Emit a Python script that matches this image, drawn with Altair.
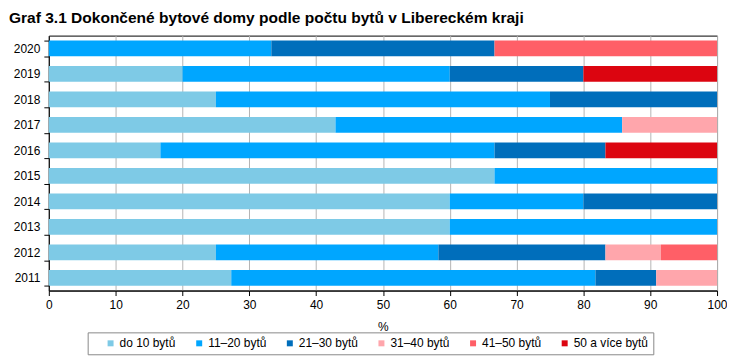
import altair as alt
import pandas as pd

years = ["2020", "2019", "2018", "2017", "2016", "2015", "2014", "2013", "2012", "2011"]
categories = ["do 10 bytů", "11–20 bytů", "21–30 bytů", "31–40 bytů", "41–50 bytů", "50 a více bytů"]
colors = ["#7ECAE6", "#00A6FF", "#006EBB", "#FFA6AC", "#FF5F67", "#DC0510"]

do10 = [0, 20, 25, 42.9, 16.7, 66.7, 60, 60, 25, 27.3]
b11_20 = [33.3, 40, 50, 42.9, 50, 33.3, 20, 40, 33.3, 54.5]
b21_30 = [33.4, 20, 25, 0, 16.6, 0, 20, 0, 25, 9.1]
b31_40 = [0, 0, 0, 14.2, 0, 0, 0, 0, 8.3, 9.1]
b41_50 = [33.3, 0, 0, 0, 0, 0, 0, 0, 8.4, 0]
b50 = [0, 20, 0, 0, 16.7, 0, 0, 0, 0, 0]

series = [do10, b11_20, b21_30, b31_40, b41_50, b50]
rows = []
for ci, (cat, vals) in enumerate(zip(categories, series)):
    for y, v in zip(years, vals):
        rows.append({"rok": y, "kategorie": cat, "podil": v, "poradi": ci})
df = pd.DataFrame(rows)

chart = alt.Chart(df).mark_bar(stroke=None).encode(
    y=alt.Y("rok:N", sort=years, title=None,
            scale=alt.Scale(paddingInner=0.38, paddingOuter=0.19),
            axis=alt.Axis(tickBand="extent", domainColor="black", tickColor="black",
                          labelColor="black", labelFontSize=12, labelFont="Liberation Sans",
                          tickSize=5, labelPadding=4, grid=False)),
    x=alt.X("podil:Q", stack="normalize", title="%",
            scale=alt.Scale(domain=[0, 1], nice=False),
            axis=alt.Axis(values=[i / 10 for i in range(11)],
                          labelExpr="format(datum.value*100, 'd')",
                          labelFlush=False,
                          domainColor="black", tickColor="black", labelColor="black",
                          labelFontSize=12, labelFont="Liberation Sans", tickSize=5,
                          labelPadding=4, gridColor="#b4b4b4", gridWidth=1,
                          titleFont="Liberation Sans", titleFontSize=12,
                          titleFontWeight="normal", titlePadding=11, titleColor="black")),
    color=alt.Color("kategorie:N", sort=categories,
                    scale=alt.Scale(domain=categories, range=colors),
                    legend=alt.Legend(title=None, orient="none", legendX=39, legendY=298,
                                      direction="horizontal", columns=6,
                                      symbolType="square", symbolSize=36,
                                      symbolStrokeWidth=0, symbolOffset=12,
                                      labelOffset=3,
                                      labelFont="Liberation Sans", labelFontSize=12,
                                      labelColor="black", columnPadding=5,
                                      padding=5, strokeColor="#888888",
                                      fillColor="white")),
    order=alt.Order("poradi:Q"),
).properties(
    width=671, height=256,
    title=alt.TitleParams("Graf 3.1 Dokončené bytové domy podle počtu bytů v Libereckém kraji",
                          anchor="start", frame="group", dx=-40, offset=3,
                          font="Liberation Sans", fontSize=15.6, fontWeight="bold",
                          color="black"),
    autosize=alt.AutoSizeParams(type="none"),
    padding={"left": 41, "top": 27, "right": 10, "bottom": 65},
).configure_view(stroke="black", strokeWidth=1)

chart.save("out.html", embed_options={"renderer": "svg", "actions": False})
